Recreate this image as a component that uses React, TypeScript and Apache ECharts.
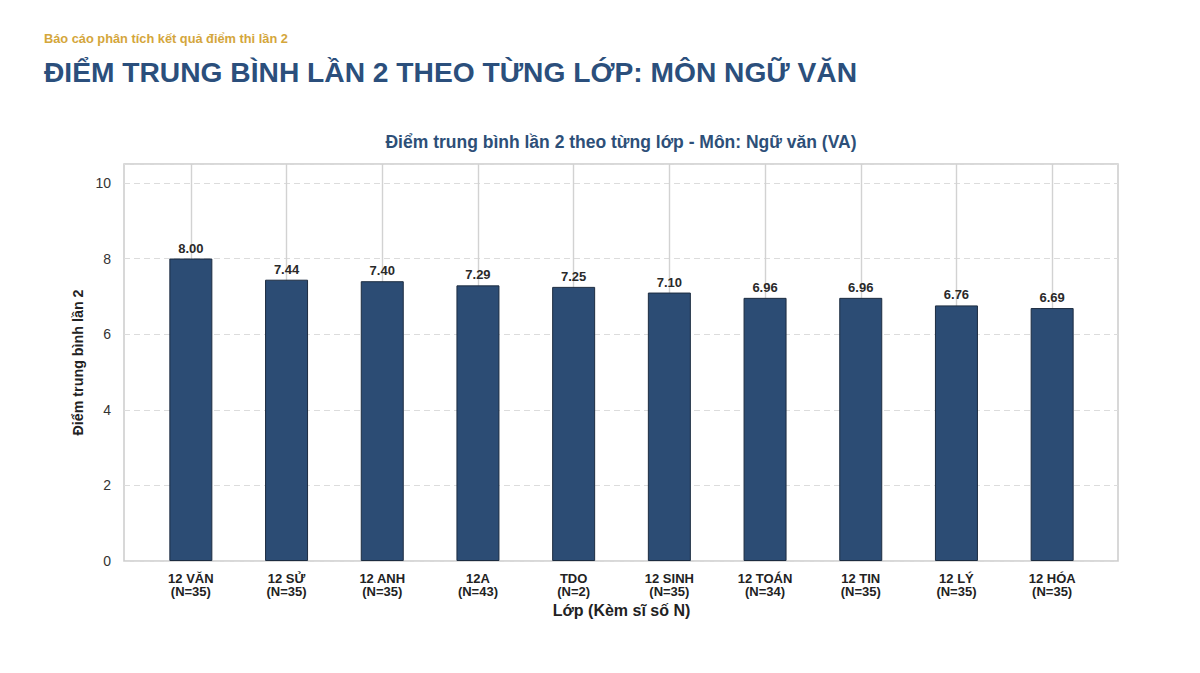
import React, { useEffect, useRef } from "react";
import * as echarts from "echarts";

const classes = ["12 VĂN", "12 SỬ", "12 ANH", "12A", "TDO", "12 SINH", "12 TOÁN", "12 TIN", "12 LÝ", "12 HÓA"];
const counts = [35, 35, 35, 43, 2, 35, 34, 35, 35, 35];
const averages = [8.0, 7.44, 7.4, 7.29, 7.25, 7.1, 6.96, 6.96, 6.76, 6.69];
const yTicks = [0, 2, 4, 6, 8, 10];

const FONT = "'Liberation Sans', Arial, sans-serif";

export default function App() {
  const ref = useRef<HTMLDivElement>(null);
  useEffect(() => {
    if (!ref.current) return;
    const chart = echarts.init(ref.current, undefined, { renderer: "svg" });
    const labels = classes.map((c, i) => `${c}\n(N=${counts[i]})`);
    chart.setOption({
      animation: false,
      backgroundColor: "#ffffff",
      textStyle: { fontFamily: FONT },
      title: [
        {
          text: "Báo cáo phân tích kết quả điểm thi lần 2",
          left: 44,
          top: 32,
          padding: 0,
          textStyle: { fontFamily: FONT, fontSize: 12.8, fontWeight: "bold", color: "#d4a63b" },
        },
        {
          text: "ĐIỂM TRUNG BÌNH LẦN 2 THEO TỪNG LỚP: MÔN NGỮ VĂN",
          left: 44,
          top: 58,
          padding: 0,
          textStyle: { fontFamily: FONT, fontSize: 28.2, fontWeight: "bold", color: "#2b4f7c" },
        },
        {
          text: "Điểm trung bình lần 2 theo từng lớp - Môn: Ngữ văn (VA)",
          left: 621,
          textAlign: "center",
          top: 133,
          padding: 0,
          textStyle: { fontFamily: FONT, fontSize: 17.5, fontWeight: "bold", color: "#2d4f78" },
        },
      ],
      grid: [
        {
          left: 124,
          right: 82,
          top: 164,
          bottom: 112,
          show: true,
          borderColor: "#cccccc",
          borderWidth: 1.5,
        },
        {
          left: 143,
          right: 100,
          top: 164,
          bottom: 112,
          show: false,
        },
      ],
      xAxis: [
        {
          gridIndex: 0,
          type: "value",
          min: 0,
          max: 1,
          show: false,
        },
        {
          gridIndex: 1,
          type: "category",
          data: labels,
          name: "Lớp (Kèm sĩ số N)",
          nameLocation: "middle",
          nameGap: 41,
          nameTextStyle: { fontFamily: FONT, fontSize: 16, fontWeight: "bold", color: "#222" },
          axisLine: { show: false },
          axisTick: { show: false },
          axisLabel: {
            interval: 0,
            margin: 11,
            fontFamily: FONT,
            fontSize: 13,
            fontWeight: "bold",
            color: "#222",
            lineHeight: 13,
          },
          splitLine: {
            show: true,
            interval: 0,
            alignWithLabel: true,
            lineStyle: { color: "#d2d2d2", width: 1.4 },
          },
        },
      ],
      yAxis: [
        {
          gridIndex: 0,
          type: "value",
          min: 0,
          max: 10.5,
          interval: 2,
          name: "Điểm trung bình lần 2",
          nameLocation: "middle",
          nameGap: 36,
          nameRotate: 90,
          nameTextStyle: { fontFamily: FONT, fontSize: 14.3, fontWeight: "bold", color: "#222" },
          axisLine: { show: false },
          axisTick: { show: false },
          axisLabel: {
            showMaxLabel: false,
            margin: 13,
            fontFamily: FONT,
            fontSize: 14,
            color: "#333",
            formatter: (v: number) => (yTicks.includes(v) ? String(v) : ""),
          },
          splitLine: {
            show: true,
            lineStyle: { color: "#dcdcdc", type: [6, 4], width: 1.2 },
          },
        },
        {
          gridIndex: 1,
          type: "value",
          min: 0,
          max: 10.5,
          show: false,
          splitLine: { show: false },
        },
      ],
      series: [
        {
          type: "bar",
          xAxisIndex: 1,
          yAxisIndex: 1,
          data: averages,
          barWidth: 43,
          itemStyle: { color: "#2c4c74", borderColor: "#1c2c40", borderWidth: 1 },
          label: {
            show: true,
            position: "top",
            distance: 4,
            fontFamily: FONT,
            fontSize: 13,
            fontWeight: "bold",
            color: "#2a2a2a",
            formatter: (p: any) => Number(p.value).toFixed(2),
          },
        },
      ],
    });
    return () => chart.dispose();
  }, []);
  return (
    <div
      ref={ref}
      style={{ position: "fixed", left: 0, top: 0, width: 1200, height: 673, background: "#fff" }}
    />
  );
}
